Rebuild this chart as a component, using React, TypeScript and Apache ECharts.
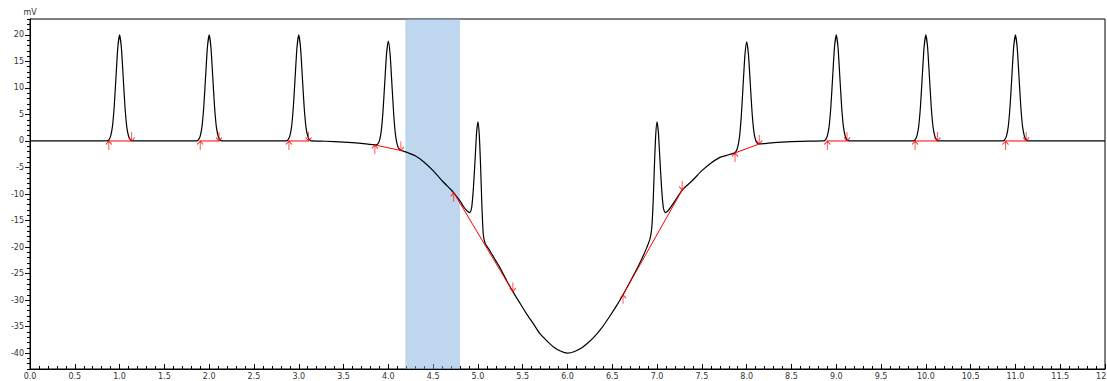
import React, { useEffect, useRef } from "react";
import * as echarts from "echarts";

// ---- data ----
const xTicksMax = 12;
const yMin = -43;
const yMax = 23;
const yMajorTicks = [-40, -35, -30, -25, -20, -15, -10, -5, 0, 5, 10, 15, 20];

// signal: flat part, left side
const sigLeft: [number, number][] = [
  [0, 0], [0.86, 0],
  [0.88, 0.2], [0.9, 0.9], [0.92, 2.7], [0.94, 6.5], [0.96, 12.1], [0.98, 17.6], [1.0, 20],
  [1.02, 17.6], [1.04, 12.1], [1.06, 6.5], [1.08, 2.7], [1.1, 0.9], [1.12, 0.2], [1.14, 0],
  [1.86, 0],
  [1.88, 0.2], [1.9, 0.9], [1.92, 2.7], [1.94, 6.5], [1.96, 12.1], [1.98, 17.6], [2.0, 20],
  [2.02, 17.6], [2.04, 12.1], [2.06, 6.5], [2.08, 2.7], [2.1, 0.9], [2.12, 0.2], [2.14, 0],
  [2.86, 0],
  [2.88, 0.2], [2.9, 0.9], [2.92, 2.7], [2.94, 6.5], [2.96, 12.1], [2.98, 17.6], [3.0, 20],
  [3.02, 17.6], [3.04, 12.1], [3.06, 6.5], [3.08, 2.7], [3.1, 0.9], [3.12, 0.2], [3.14, 0],
  [3.3, -0.05], [3.5, -0.2], [3.7, -0.45], [3.86, -0.72],
];

// signal: drift region with peaks at 4, 5, 7, 8
const sigDrift: [number, number][] = [
  [3.88, -0.6], [3.9, 0.03], [3.92, 1.75], [3.94, 5.48], [3.96, 11.0], [3.98, 16.43], [4.0, 18.85],
  [4.02, 16.28], [4.04, 10.7], [4.06, 5.03], [4.08, 1.15], [4.1, -0.72], [4.12, -1.5], [4.14, -1.8],
  [4.2, -2.1], [4.3, -2.8], [4.4, -4.0], [4.5, -5.6], [4.6, -7.5], [4.7, -9.2], [4.75, -10.2],
  [4.8, -11.3], [4.84, -12.4], [4.88, -13.2], [4.91, -13.5], [4.93, -12.6], [4.95, -8.8],
  [4.97, -3.0], [4.985, 1.5], [5.0, 3.6], [5.015, 1.2], [5.03, -4.8], [5.045, -12.5],
  [5.06, -17.6], [5.08, -19.3], [5.13, -20.6], [5.2, -22.6], [5.25, -24.0], [5.32, -26.3],
  [5.39, -28.4], [5.47, -30.6], [5.54, -32.5], [5.62, -34.5], [5.69, -36.3], [5.77, -37.7],
  [5.84, -38.8], [5.92, -39.6], [6.0, -40.0], [6.08, -39.7], [6.16, -39.0], [6.22, -38.2],
  [6.29, -37.1], [6.38, -35.3], [6.47, -33.1], [6.55, -31.0], [6.62, -29.0], [6.7, -26.5],
  [6.77, -24.3], [6.83, -22.2], [6.88, -20.3], [6.92, -18.5],
  [6.94, -16.5], [6.955, -12.0], [6.97, -4.8], [6.985, 1.2], [7.0, 3.6], [7.015, 1.5],
  [7.03, -3.0], [7.05, -8.8], [7.07, -12.6], [7.09, -13.5], [7.12, -13.2], [7.16, -12.3],
  [7.2, -11.3], [7.28, -9.25], [7.4, -7.36], [7.5, -5.6], [7.6, -4.2], [7.7, -3.1],
  [7.8, -2.6], [7.86, -2.3],
  [7.88, -2.0], [7.9, -1.17], [7.92, 0.76], [7.94, 4.69], [7.96, 10.42], [7.98, 16.05], [8.0, 18.7],
  [8.02, 16.31], [8.04, 10.94], [8.06, 5.47], [8.08, 1.8], [8.1, 0.13], [8.12, -0.44], [8.14, -0.55],
  [8.3, -0.3], [8.5, -0.12], [8.7, -0.03],
];

// signal: flat part, right side
const sigRight: [number, number][] = [
  [8.86, 0],
  [8.88, 0.2], [8.9, 0.9], [8.92, 2.7], [8.94, 6.5], [8.96, 12.1], [8.98, 17.6], [9.0, 20],
  [9.02, 17.6], [9.04, 12.1], [9.06, 6.5], [9.08, 2.7], [9.1, 0.9], [9.12, 0.2], [9.14, 0],
  [9.86, 0],
  [9.88, 0.2], [9.9, 0.9], [9.92, 2.7], [9.94, 6.5], [9.96, 12.1], [9.98, 17.6], [10.0, 20],
  [10.02, 17.6], [10.04, 12.1], [10.06, 6.5], [10.08, 2.7], [10.1, 0.9], [10.12, 0.2], [10.14, 0],
  [10.86, 0],
  [10.88, 0.2], [10.9, 0.9], [10.92, 2.7], [10.94, 6.5], [10.96, 12.1], [10.98, 17.6], [11.0, 20],
  [11.02, 17.6], [11.04, 12.1], [11.06, 6.5], [11.08, 2.7], [11.1, 0.9], [11.12, 0.2], [11.14, 0],
  [12, 0],
];

// integration baseline start / end points
const peakStarts: [number, number][] = [
  [0.88, 0], [1.9, 0], [2.89, 0], [3.85, -0.75], [4.73, -9.75],
  [6.62, -29.0], [7.87, -2.25], [8.9, 0], [9.88, 0], [10.89, 0],
];
const peakEnds: [number, number][] = [
  [1.135, 0], [2.11, 0], [3.11, 0], [4.14, -1.8], [5.39, -28.4],
  [7.28, -9.25], [8.14, -0.57], [9.12, 0], [10.13, 0], [11.12, 0],
];

// highlighted window
const bandRange: [number, number] = [4.19, 4.8];

const FONT = "DejaVu Sans";

export default function App() {
  const ref = useRef<HTMLDivElement>(null);
  useEffect(() => {
    if (!ref.current) return;
    document.body.style.margin = "0";
    document.body.style.overflow = "hidden";
    const chart = echarts.init(ref.current, undefined, { renderer: "svg" });
    const signal = [...sigLeft, ...sigDrift, ...sigRight];
    const baselineSeries = peakStarts.map((s, i) => ({
      type: "line",
      data: [s, peakEnds[i]],
      symbol: "none",
      lineStyle: { color: "#ff0000", width: 1 },
      z: 3,
      silent: true,
    }));
    const upArrow = "path://M3,0 L3,9 M0,3.5 L3,0 L6,3.5";
    const downArrow = "path://M3,9 L3,0 M0,5.5 L3,9 L6,5.5";
    const option: any = {
      animation: false,
      grid: {
        left: 30,
        right: 2,
        top: 19,
        bottom: 12,
        show: true,
        borderColor: "#000",
        borderWidth: 1,
        backgroundColor: "transparent",
        containLabel: false,
        outerBoundsMode: "none",
      },
      xAxis: {
        type: "value",
        min: 0,
        max: xTicksMax,
        interval: 0.5,
        axisLine: { show: true, onZero: false, lineStyle: { color: "#000", width: 1 } },
        axisTick: { show: true, inside: true, length: 5, lineStyle: { color: "#000" } },
        minorTick: { show: true, splitNumber: 5, length: 3, lineStyle: { color: "#000" } },
        axisLabel: {
          formatter: (v: number) => v.toFixed(1),
          fontSize: 8,
          color: "#333",
          margin: 3,
          fontFamily: FONT,
          showMaxLabel: true,
        },
        splitLine: { show: false },
      },
      yAxis: [
        {
          type: "value",
          min: yMin,
          max: yMax,
          interval: 1,
          position: "left",
          name: "mV",
          nameLocation: "end",
          nameGap: 3,
          nameTextStyle: { fontSize: 8, color: "#333", fontFamily: FONT, align: "center" },
          axisLine: { show: true, onZero: false, lineStyle: { color: "#000", width: 1 } },
          axisTick: { show: true, length: 3, lineStyle: { color: "#000" } },
          axisLabel: { show: false },
          splitLine: { show: false },
        },
        {
          type: "value",
          min: yMin,
          max: yMax,
          interval: 1,
          position: "left",
          axisLine: { show: false, onZero: false },
          axisTick: { show: true, length: 5, customValues: yMajorTicks, lineStyle: { color: "#000" } },
          axisLabel: {
            customValues: yMajorTicks,
            fontSize: 8,
            color: "#333",
            margin: 6,
            fontFamily: FONT,
          },
          splitLine: { show: false },
        },
      ],
      series: [
        {
          type: "line",
          data: signal,
          symbol: "none",
          smooth: 0.2,
          lineStyle: { color: "#000", width: 1.2 },
          z: 2,
          silent: true,
        },
        ...baselineSeries,
        {
          type: "scatter",
          data: peakStarts,
          symbol: upArrow,
          symbolSize: [6, 9],
          symbolOffset: [0, 4.5],
          itemStyle: { color: "rgba(0,0,0,0)", borderColor: "#ff0000", borderWidth: 1 },
          z: 4,
          silent: true,
        },
        {
          type: "scatter",
          data: peakEnds,
          symbol: downArrow,
          symbolSize: [6, 9],
          symbolOffset: [0, -4.5],
          itemStyle: { color: "rgba(0,0,0,0)", borderColor: "#ff0000", borderWidth: 1 },
          z: 4,
          silent: true,
        },
        {
          type: "line",
          data: [],
          z: 10,
          silent: true,
          markArea: {
            silent: true,
            itemStyle: { color: "rgba(125,175,221,0.5)" },
            data: [[{ xAxis: bandRange[0] }, { xAxis: bandRange[1] }]],
          },
        },
      ],
    };
    chart.setOption(option);
    return () => chart.dispose();
  }, []);
  return (
    <div
      ref={ref}
      style={{
        position: "fixed",
        left: 0,
        top: 0,
        width: 1107,
        height: 381,
        overflow: "hidden",
        background: "#fff",
      }}
    />
  );
}
